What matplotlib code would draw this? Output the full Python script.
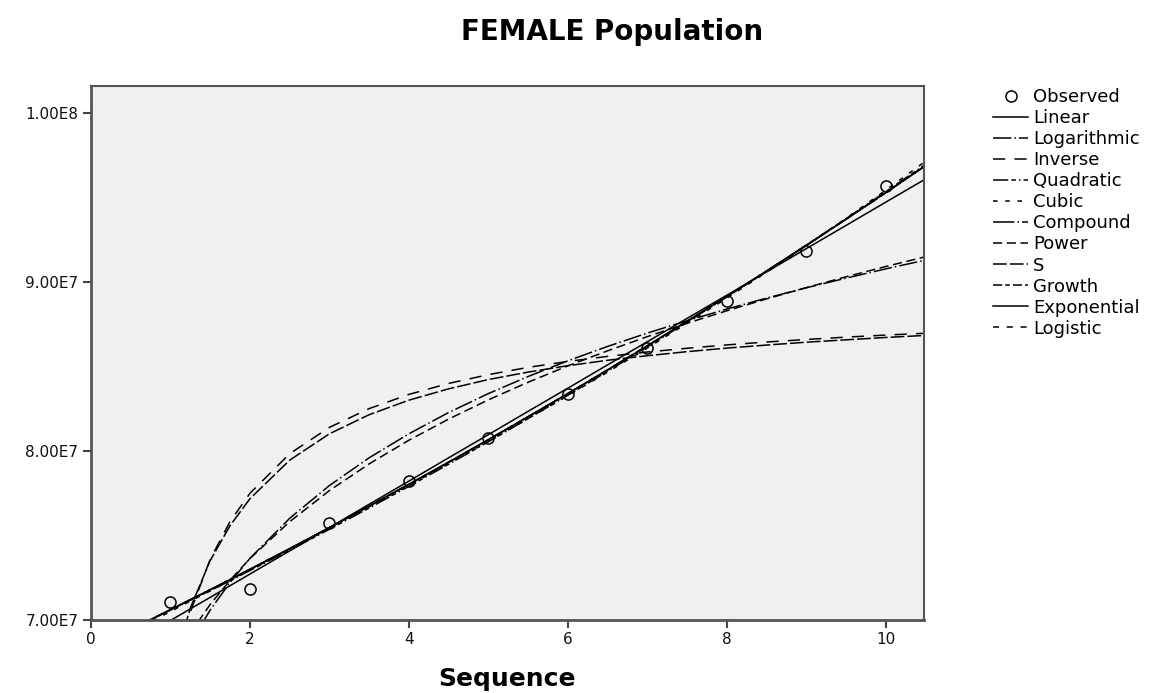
import matplotlib
matplotlib.use("Agg")
import matplotlib.pyplot as plt
import numpy as np

plt.rcParams['font.family'] = ['DejaVu Sans']

# ---- data (values in millions) ----
SCALE = 1e6
obs_x = [1, 2, 3, 4, 5, 6, 7, 8, 9, 10]
obs_y = [71.07, 71.83, 75.74, 78.22, 80.77, 83.37, 86.09, 88.88, 91.83, 95.68]

curve_x = [0.5, 0.75, 1.0, 1.25, 1.5, 1.75, 2.0, 2.5, 3.0, 3.5, 4.0, 4.5,
           5.0, 5.5, 6.0, 6.5, 7.0, 7.5, 8.0, 8.5, 9.0, 9.5, 10.0, 10.5]
linear_y = [68.59, 69.28, 69.97, 70.66, 71.34, 72.03, 72.72, 74.09, 75.47, 76.85, 78.22, 79.60,
            80.97, 82.35, 83.72, 85.10, 86.47, 87.85, 89.22, 90.60, 91.98, 93.35, 94.73, 96.10]
log_y = [58.89, 63.21, 66.27, 68.65, 70.59, 72.23, 73.65, 76.02, 77.96, 79.60, 81.02, 82.28,
         83.40, 84.41, 85.34, 86.19, 86.98, 87.71, 88.40, 89.05, 89.66, 90.23, 90.78, 91.30]
inverse_y = [42.40, 58.00, 65.80, 70.48, 73.60, 75.83, 77.50, 79.84, 81.40, 82.51, 83.35, 84.00,
             84.52, 84.95, 85.30, 85.60, 85.86, 86.08, 86.28, 86.45, 86.60, 86.74, 86.86, 86.97]
quadratic_y = [69.46, 70.02, 70.59, 71.17, 71.74, 72.33, 72.93, 74.13, 75.37, 76.63, 77.91, 79.22,
               80.55, 81.92, 83.30, 84.72, 86.16, 87.63, 89.12, 90.64, 92.19, 93.75, 95.35, 96.97]
cubic_y = [69.28, 69.89, 70.50, 71.12, 71.72, 72.34, 72.96, 74.19, 75.44, 76.70, 77.97, 79.27,
           80.57, 81.92, 83.28, 84.67, 86.10, 87.56, 89.05, 90.58, 92.16, 93.77, 95.44, 97.15]
exp_y = [69.44, 70.02, 70.61, 71.20, 71.79, 72.39, 73.00, 74.22, 75.47, 76.74, 78.03, 79.34,
         80.67, 82.03, 83.40, 84.80, 86.23, 87.68, 89.15, 90.65, 92.17, 93.72, 95.29, 96.89]
power_y = [61.42, 64.76, 67.25, 69.24, 70.92, 72.36, 73.64, 75.82, 77.66, 79.24, 80.64, 81.89,
           83.03, 84.07, 85.04, 85.93, 86.77, 87.56, 88.30, 89.00, 89.67, 90.31, 90.92, 91.50]
s_y = [49.86, 60.53, 66.71, 70.72, 73.52, 75.59, 77.18, 79.46, 81.02, 82.15, 83.01, 83.68,
       84.23, 84.67, 85.05, 85.37, 85.64, 85.88, 86.09, 86.27, 86.44, 86.58, 86.72, 86.84]

series_names = ["Linear", "Logarithmic", "Inverse", "Quadratic", "Cubic", "Compound",
                "Power", "S", "Growth", "Exponential", "Logistic"]
series_vals = [linear_y, log_y, inverse_y, quadratic_y, cubic_y, exp_y,
               power_y, s_y, exp_y, exp_y, exp_y]
series_styles = ['-', (0, (12, 2, 1, 2)), (0, (8, 6)), (0, (10, 2, 3, 2, 1, 2)), (0, (3, 5)),
                 (0, (14, 2, 1, 2)), (0, (6, 3)), (0, (9, 2)), (0, (6, 2, 3, 2)), '-', (0, (4, 5))]

yticks = [7.0e7, 8.0e7, 9.0e7, 1.0e8]
yticklabels = ["7.00E7", "8.00E7", "9.00E7", "1.00E8"]
xticks = [0, 2, 4, 6, 8, 10]

W, H = 1149, 693
fig = plt.figure(figsize=(W / 100, H / 100), dpi=100)
fig.patch.set_facecolor('white')
ax = fig.add_axes([91 / W, 1 - 620 / H, (924 - 91) / W, (620 - 86) / H])
ax.set_facecolor('#F0F0F0')

cx = np.array(curve_x)
handles = []
obs_handle, = ax.plot(obs_x, np.array(obs_y) * SCALE, linestyle='none', marker='o',
                      markersize=8, markerfacecolor='none', markeredgecolor='black',
                      markeredgewidth=1.1, zorder=5)
handles.append(obs_handle)
for name, vals, ls in zip(series_names, series_vals, series_styles):
    h, = ax.plot(cx, np.array(vals) * SCALE, color='black', linestyle=ls, linewidth=1.1)
    handles.append(h)

ax.set_xlim(0, 10.48)
ax.set_ylim(7.0e7, 1.016e8)
ax.set_xticks(xticks)
ax.set_xticklabels([str(t) for t in xticks])
ax.set_yticks(yticks)
ax.set_yticklabels(yticklabels)
ax.tick_params(axis='both', direction='out', length=6, width=1.5, color='#444444',
               labelsize=11, labelcolor='#111111', pad=3)
for sp in ax.spines.values():
    sp.set_color('#555555')
    sp.set_linewidth(1.5)
ax.spines['left'].set_linewidth(2)
ax.spines['bottom'].set_linewidth(2)

ax.set_xlabel("Sequence", fontsize=18, fontweight='bold', labelpad=14)
fig.text(612 / W, 1 - 32 / H, "FEMALE Population", fontsize=20, fontweight='bold',
         ha='center', va='center')

ax.legend(handles, ["Observed"] + series_names, loc='upper left',
          bbox_to_anchor=(993 / W, 1 - 88 / H), bbox_transform=fig.transFigure,
          frameon=False, fontsize=13, handlelength=1.94, handletextpad=0.28,
          labelspacing=0.17, borderpad=0, borderaxespad=0)

fig.savefig("out.png", dpi=100, facecolor='white')
